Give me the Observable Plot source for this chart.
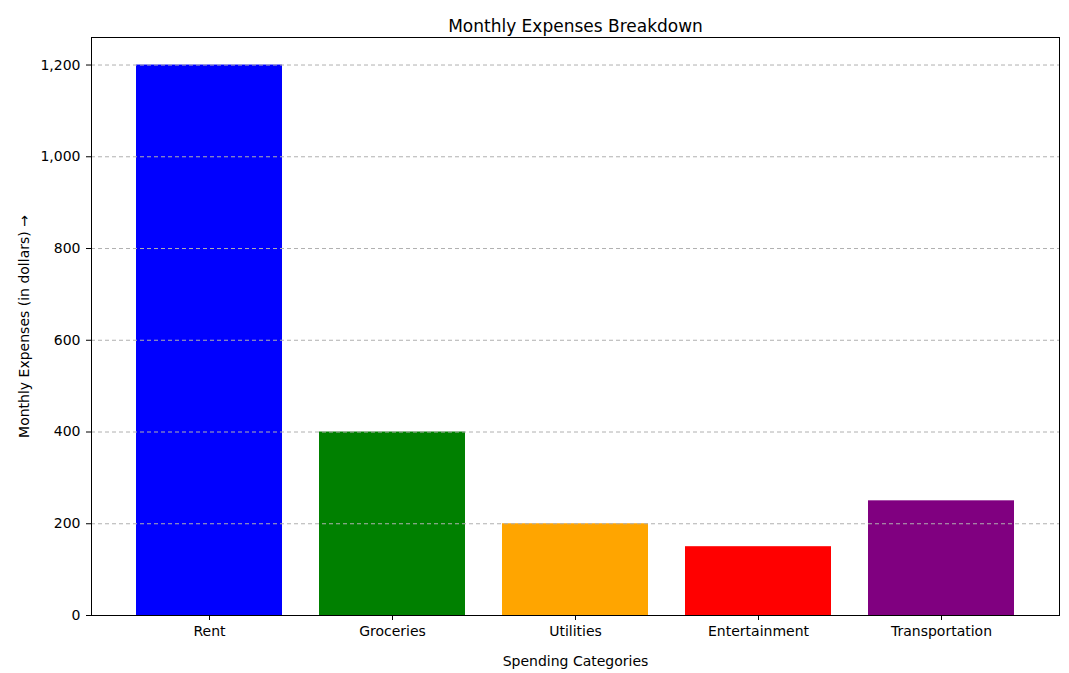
<!DOCTYPE html>
<html>
<head>
<meta charset="utf-8">
<script src="https://cdn.jsdelivr.net/npm/d3@7"></script>
<script src="https://cdn.jsdelivr.net/npm/@observablehq/plot@0.6"></script>
<style>
  body { margin: 0; background: #fff; }
</style>
</head>
<body>
<div id="chart"></div>
<script>
const categories = ['Rent', 'Groceries', 'Utilities', 'Entertainment', 'Transportation'];
const expenses = [1200, 400, 200, 150, 250];
const barColors = ['blue', 'green', 'orange', 'red', 'purple'];
const yTicks = [0, 200, 400, 600, 800, 1000, 1200];

const data = categories.map((c, i) => ({ category: c, value: expenses[i], color: barColors[i] }));

const chart = Plot.plot({
  width: 1069,
  height: 673,
  marginTop: 37,
  marginLeft: 91,
  marginRight: 10,
  marginBottom: 58,
  style: { fontFamily: 'DejaVu Sans', fontSize: '14px', color: '#000', background: '#fff' },
  x: {
    domain: categories,
    paddingInner: 0.2,
    paddingOuter: 0.24,
    label: 'Spending Categories',
    labelAnchor: 'center',
    labelOffset: 50,
    tickSize: 5,
    tickPadding: 6
  },
  y: {
    domain: [0, 1260],
    ticks: yTicks,
    label: 'Monthly Expenses (in dollars)',
    labelAnchor: 'center',
    labelOffset: 72,
    tickSize: 5,
    tickPadding: 6
  },
  marks: [
    Plot.barY(data, { x: 'category', y: 'value', fill: 'color' }),
    Plot.ruleY(yTicks.filter((d) => d > 0), { stroke: '#b0b0b0', strokeDasharray: '4,3', strokeWidth: 1 }),
    Plot.frame({ stroke: '#000' }),
    Plot.text(['Monthly Expenses Breakdown'], { frameAnchor: 'top', dy: -18, fontSize: 17, fill: '#000' })
  ]
});

d3.select('#chart').append(() => chart);
</script>
</body>
</html>
